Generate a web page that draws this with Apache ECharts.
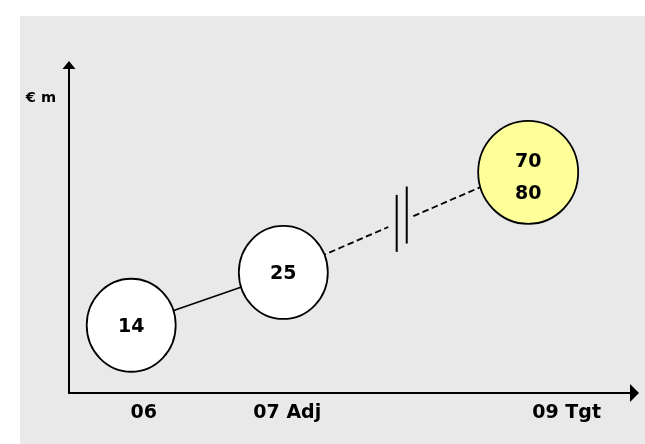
<!DOCTYPE html>
<html>
<head>
<meta charset="utf-8">
<script src="https://cdn.jsdelivr.net/npm/echarts@6/dist/echarts.min.js"></script>
<style>
  html, body { margin: 0; padding: 0; background: #ffffff; }
  #chart { width: 645px; height: 444px; }
</style>
</head>
<body>
<div id="chart"></div>
<script>
// Periods along the horizontal axis
const periods = ['06', '07 Adj', '09 Tgt'];
// Position of each period label on the (schematic) time axis
const periodPos = [13.2, 38.6, 88.0];
// Position of each bubble on the same axis
const bubblePos = [11.0, 37.9, 81.2];
// Value range per period, € m (a single figure where low equals high)
const lowValues = [14, 25, 70];
const highValues = [14, 25, 80];
const unitLabel = '€ m';

const FONT = 'DejaVu Sans, Verdana, sans-serif';
const midValues = lowValues.map((lo, i) => (lo + highValues[i]) / 2);
const isRange = lowValues.map((lo, i) => lo !== highValues[i]);

const chart = echarts.init(document.getElementById('chart'), null, { renderer: 'canvas' });

const bubbleData = bubblePos.map((x, i) => ({
  value: [x, midValues[i]],
  symbolSize: isRange[i] ? [100, 103] : [89, 93],
  itemStyle: { color: isRange[i] ? '#ffff99' : '#ffffff' },
  label: { offset: [0, isRange[i] ? 6 : 2] }
}));

const option = {
  backgroundColor: '#ffffff',
  animation: false,
  grid: { left: 69, right: 10.5, top: 65, bottom: 51 },
  xAxis: {
    type: 'value',
    min: 0,
    max: 100,
    splitLine: { show: false },
    axisTick: { show: false },
    axisLine: {
      show: true,
      lineStyle: { color: '#000', width: 2 },
      symbol: ['none', 'triangle'],
      symbolSize: [18, 9]
    },
    axisLabel: {
      show: true,
      customValues: periodPos,
      margin: 11,
      color: '#000',
      fontFamily: FONT,
      fontWeight: 'bold',
      fontSize: 19,
      formatter: function (v) {
        let best = 0;
        periodPos.forEach((p, i) => { if (Math.abs(p - v) < Math.abs(periodPos[best] - v)) best = i; });
        return periods[best];
      }
    }
  },
  yAxis: {
    type: 'log',
    logBase: 10,
    min: 6.658,
    max: 243.6,
    name: unitLabel,
    nameLocation: 'end',
    nameGap: -33,
    nameTextStyle: {
      color: '#000',
      fontFamily: FONT,
      fontWeight: 'bold',
      fontSize: 14.5,
      align: 'right',
      verticalAlign: 'middle',
      padding: [0, 13, 0, 0]
    },
    splitLine: { show: false },
    axisTick: { show: false },
    axisLabel: { show: false },
    axisLine: {
      show: true,
      lineStyle: { color: '#000', width: 2 },
      symbol: ['none', 'triangle'],
      symbolSize: [13, 8]
    }
  },
  series: [
    {
      // solid connector between the first two periods
      type: 'line',
      z: 1,
      symbol: 'none',
      silent: true,
      lineStyle: { color: '#000', width: 1.6 },
      data: [[bubblePos[0], midValues[0]], [bubblePos[1], midValues[1]]]
    },
    {
      type: 'scatter',
      z: 3,
      data: bubbleData,
      symbol: 'circle',
      itemStyle: {
        borderColor: '#000',
        borderWidth: 1.8,
        opacity: 1
      },
      label: {
        show: true,
        position: 'inside',
        color: '#000',
        fontFamily: FONT,
        fontWeight: 'bold',
        fontSize: 19,
        lineHeight: 32,
        formatter: function (p) {
          const i = p.dataIndex;
          return isRange[i] ? lowValues[i] + '\n' + highValues[i] : String(lowValues[i]);
        }
      }
    }
  ]
};

chart.setOption(option);

// Dashed projection from the second period to the target, with a break marker
const p1 = chart.convertToPixel({ xAxisIndex: 0, yAxisIndex: 0 }, [bubblePos[1], midValues[1]]);
const p2 = chart.convertToPixel({ xAxisIndex: 0, yAxisIndex: 0 }, [bubblePos[2], highValues[2]]);
const lerp = t => [p1[0] + (p2[0] - p1[0]) * t, p1[1] + (p2[1] - p1[1]) * t];
const gapA = lerp(0.4286), gapB = lerp(0.531);
const mark1 = lerp(0.463), mark2 = lerp(0.504);
const dash = { stroke: '#000', lineWidth: 1.8, lineDash: [6.5, 3.5] };
const bar = { stroke: '#000', lineWidth: 2 };
const half = 28.5;

chart.setOption({
  graphic: [
    {
      type: 'rect', z: -10, silent: true,
      shape: { x: 20, y: 16, width: 625, height: 428 },
      style: { fill: '#e9e9e9' }
    },
    { type: 'line', z: 0, silent: true, shape: { x1: p1[0], y1: p1[1], x2: gapA[0], y2: gapA[1] }, style: dash },
    { type: 'line', z: 0, silent: true, shape: { x1: gapB[0], y1: gapB[1], x2: p2[0], y2: p2[1] }, style: dash },
    { type: 'line', z: 0, silent: true, shape: { x1: mark1[0], y1: mark1[1] - half, x2: mark1[0], y2: mark1[1] + half }, style: bar },
    { type: 'line', z: 0, silent: true, shape: { x1: mark2[0], y1: mark2[1] - half - 4, x2: mark2[0], y2: mark2[1] + half - 4 }, style: bar }
  ]
});
</script>
</body>
</html>
